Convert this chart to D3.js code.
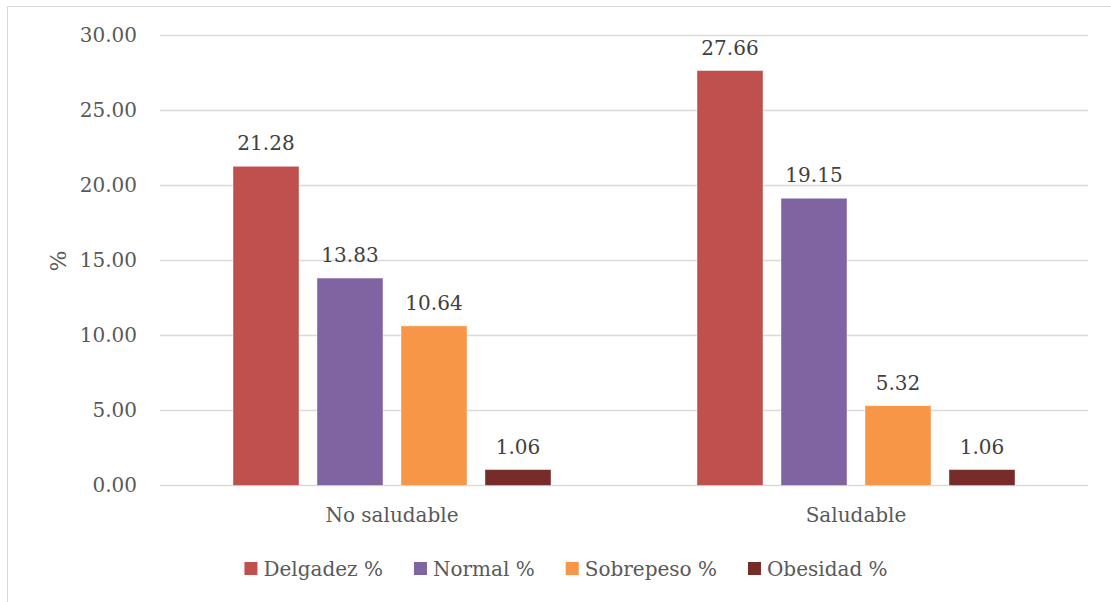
<!DOCTYPE html>
<html>
<head>
<meta charset="utf-8">
<script src="https://cdn.jsdelivr.net/npm/d3@7"></script>
<style>
  body { margin: 0; background: #fff; }
  svg { font-family: "DejaVu Serif", serif; }
</style>
</head>
<body>
<svg id="chart" width="1111" height="602"></svg>
<script>
var categories = ["No saludable", "Saludable"];
var series = ["Delgadez %", "Normal %", "Sobrepeso %", "Obesidad %"];
var colors = ["#C0504D", "#8064A2", "#F79646", "#772C2A"];
var delgadez = [21.28, 27.66];
var normal = [13.83, 19.15];
var sobrepeso = [10.64, 5.32];
var obesidad = [1.06, 1.06];
var yTicks = [0, 5, 10, 15, 20, 25, 30];

var values = [delgadez, normal, sobrepeso, obesidad];
var fs = "20px";

var svg = d3.select("#chart");
var margin = { top: 35.5, left: 160, right: 23, bottom: 116.5 };
var w = 1111 - margin.left - margin.right;
var h = 602 - margin.top - margin.bottom;

// chart border
svg.append("rect")
  .attr("x", 7.5).attr("y", 6.5)
  .attr("width", 1130).attr("height", 620)
  .attr("fill", "none").attr("stroke", "#D9D9D9");

var g = svg.append("g").attr("transform", "translate(" + margin.left + "," + margin.top + ")");

var y = d3.scaleLinear().domain([0, 30]).range([h, 0]);
var x0 = d3.scaleBand().domain(categories).range([0, w]);
var x1 = d3.scaleBand().domain(series)
  .range([73, x0.bandwidth() - 73])
  .paddingInner(18 / 84).paddingOuter(0);

// gridlines
g.selectAll(".grid").data(yTicks).enter().append("line")
  .attr("x1", 0).attr("x2", w)
  .attr("y1", function (d) { return y(d); })
  .attr("y2", function (d) { return y(d); })
  .attr("stroke", "#D9D9D9").attr("stroke-width", 1.3);

// y axis labels
var yAxis = d3.axisLeft(y).tickValues(yTicks).tickFormat(d3.format(".2f")).tickSize(0).tickPadding(23);
var ya = g.append("g").call(yAxis);
ya.select(".domain").remove();
ya.selectAll("text").attr("fill", "#595959").style("font-size", fs).style("font-family", "DejaVu Serif");

// y title
svg.append("text")
  .attr("transform", "translate(66,261) rotate(-90)")
  .attr("text-anchor", "middle")
  .attr("fill", "#595959").style("font-size", "22px")
  .text("%");

// bars
var groups = g.selectAll(".grp").data(categories).enter().append("g")
  .attr("transform", function (d) { return "translate(" + x0(d) + ",0)"; });

groups.each(function (cat, ci) {
  var grp = d3.select(this);
  series.forEach(function (s, si) {
    var v = values[si][ci];
    grp.append("rect")
      .attr("x", x1(s)).attr("width", x1.bandwidth())
      .attr("y", y(v)).attr("height", h - y(v))
      .attr("fill", colors[si])
      .attr("stroke", "#fff").attr("stroke-opacity", 0.5).attr("stroke-width", 0.8);
    grp.append("text")
      .attr("x", x1(s) + x1.bandwidth() / 2)
      .attr("y", y(v) - 16)
      .attr("text-anchor", "middle")
      .attr("fill", "#404040").style("font-size", fs)
      .text(v.toFixed(2));
  });
});

// x axis labels
var xAxis = d3.axisBottom(x0).tickSize(0).tickPadding(22);
var xa = g.append("g").attr("transform", "translate(0," + h + ")").call(xAxis);
xa.select(".domain").remove();
xa.selectAll("text").attr("fill", "#595959").style("font-size", fs).style("font-family", "DejaVu Serif");

// legend
var legend = svg.append("g");
var lx = 0;
series.forEach(function (s, i) {
  var item = legend.append("g").attr("transform", "translate(" + lx + ",0)");
  item.append("rect").attr("x", 0).attr("y", -14).attr("width", 13).attr("height", 13).attr("fill", colors[i]);
  var t = item.append("text").attr("x", 19).attr("y", 0)
    .attr("fill", "#595959").style("font-size", fs).text(s);
  lx += 19 + t.node().getComputedTextLength() + 31;
});
var legW = lx - 31;
legend.attr("transform", "translate(" + (566 - legW / 2) + ",576)");
</script>
</body>
</html>
